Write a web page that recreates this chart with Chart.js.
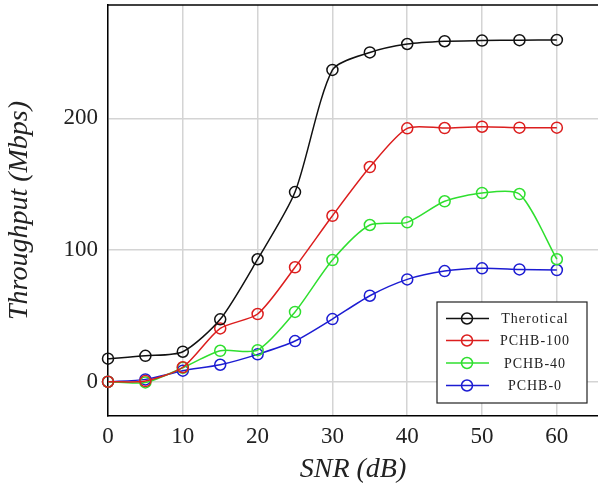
<!DOCTYPE html>
<html>
<head>
<meta charset="utf-8">
<script src="https://cdn.jsdelivr.net/npm/chart.js@4.4.1/dist/chart.umd.min.js"></script>
<style>
  html, body { margin: 0; padding: 0; background: #fff; }
  canvas { display: block; }
</style>
</head>
<body>
<canvas id="snrChart" width="598" height="491"></canvas>
<script>
// SNR values (dB)
const snr = [0, 5, 10, 15, 20, 25, 30, 35, 40, 45, 50, 55, 60];
const therotical = [17.5, 19.7, 22.8, 47.4, 93, 144, 236.7, 250, 256.4, 258.5, 259, 259.3, 259.5];
const pchb100 = [0, 0.5, 11, 40.5, 51.4, 86.9, 126, 163, 192.4, 192.6, 193.6, 192.9, 192.9];
const pchb40 = [0, -0.5, 10.6, 23.5, 24, 53, 92.4, 119, 121, 137, 143.3, 142.5, 93];
const pchb0 = [0, 1.8, 8.4, 12.9, 20.8, 30.9, 47.6, 65.3, 77.7, 84, 86.1, 85.3, 84.8];
const xTicks = [0, 10, 20, 30, 40, 50, 60];
const yTicks = [0, 100, 200];

const serif = "'Liberation Serif', 'DejaVu Serif', serif";

function series(label, values, color) {
  return {
    label: label,
    data: snr.map((x, i) => ({ x: x, y: values[i] })),
    borderColor: color,
    backgroundColor: "transparent",
    borderWidth: 1.5,
    pointRadius: 5.5,
    pointBorderWidth: 1.5,
    pointBackgroundColor: "transparent",
    pointBorderColor: color,
    tension: 0.25,
    clip: false,
  };
}

function noPad(s) {
  s.paddingTop = 0;
  s.paddingBottom = 0;
  s.paddingLeft = 0;
  s.paddingRight = 0;
}

// frame top line + legend box inside the plot
const framePlugin = {
  id: "frame",
  afterDraw(chart) {
    const c = chart.ctx;
    const a = chart.chartArea;
    c.save();
    c.strokeStyle = "#000";
    c.lineWidth = 1.5;
    c.beginPath();
    c.moveTo(a.left, a.top);
    c.lineTo(a.right, a.top);
    c.stroke();

    // legend
    const bx = 437, by = 302, bw = 150, bh = 101;
    c.fillStyle = "#fff";
    c.fillRect(bx, by, bw, bh);
    c.strokeStyle = "#222";
    c.lineWidth = 1.2;
    c.strokeRect(bx, by, bw, bh);
    const rows = [318.5, 340.5, 363, 385.5];
    c.font = "14px " + serif;
    c.textAlign = "center";
    c.textBaseline = "middle";
    c.letterSpacing = "1px";
    chart.data.datasets.forEach((ds, i) => {
      const y = rows[i];
      c.strokeStyle = ds.borderColor;
      c.lineWidth = 1.5;
      c.beginPath();
      c.moveTo(446, y);
      c.lineTo(489, y);
      c.stroke();
      c.beginPath();
      c.arc(467, y, 5.5, 0, Math.PI * 2);
      c.stroke();
      c.fillStyle = "#222";
      c.fillText(ds.label, 535, y + 1);
    });
    c.restore();
  },
};

new Chart(document.getElementById("snrChart"), {
  type: "line",
  data: {
    datasets: [
      series("Therotical", therotical, "#111111"),
      series("PCHB-100", pchb100, "#dc1e1e"),
      series("PCHB-40", pchb40, "#2fdf2f"),
      series("PCHB-0", pchb0, "#1c1cd2"),
    ],
  },
  options: {
    responsive: false,
    animation: false,
    layout: { autoPadding: false, padding: { top: 5, right: 0, left: 0, bottom: 0 } },
    plugins: { legend: { display: false }, tooltip: { enabled: false } },
    scales: {
      x: {
        type: "linear",
        min: 0,
        max: 65.5,
        afterBuildTicks: (s) => { s.ticks = xTicks.map((v) => ({ value: v })); },
        afterFit: (s) => { s.height = 75; noPad(s); },
        ticks: { font: { family: serif, size: 23 }, color: "#222", padding: 7 },
        grid: { color: "#d4d4d4", lineWidth: 1.5, drawTicks: false },
        border: { color: "#000", width: 1.5 },
        title: {
          display: true,
          text: "SNR (dB)",
          font: { family: serif, size: 28, style: "italic" },
          color: "#222",
          padding: { top: 0, bottom: 5 },
        },
      },
      y: {
        min: -26,
        max: 286,
        afterBuildTicks: (s) => { s.ticks = yTicks.map((v) => ({ value: v })); },
        afterFit: (s) => { s.width = 108; noPad(s); },
        ticks: { font: { family: serif, size: 23 }, color: "#222", padding: 10 },
        grid: { color: "#d4d4d4", lineWidth: 1.5, drawTicks: false },
        border: { color: "#000", width: 1.5 },
        title: {
          display: true,
          text: "Throughput (Mbps)",
          font: { family: serif, size: 28, style: "italic" },
          color: "#222",
          padding: { top: 3, bottom: 0 },
        },
      },
    },
  },
  plugins: [framePlugin],
});
</script>
</body>
</html>
